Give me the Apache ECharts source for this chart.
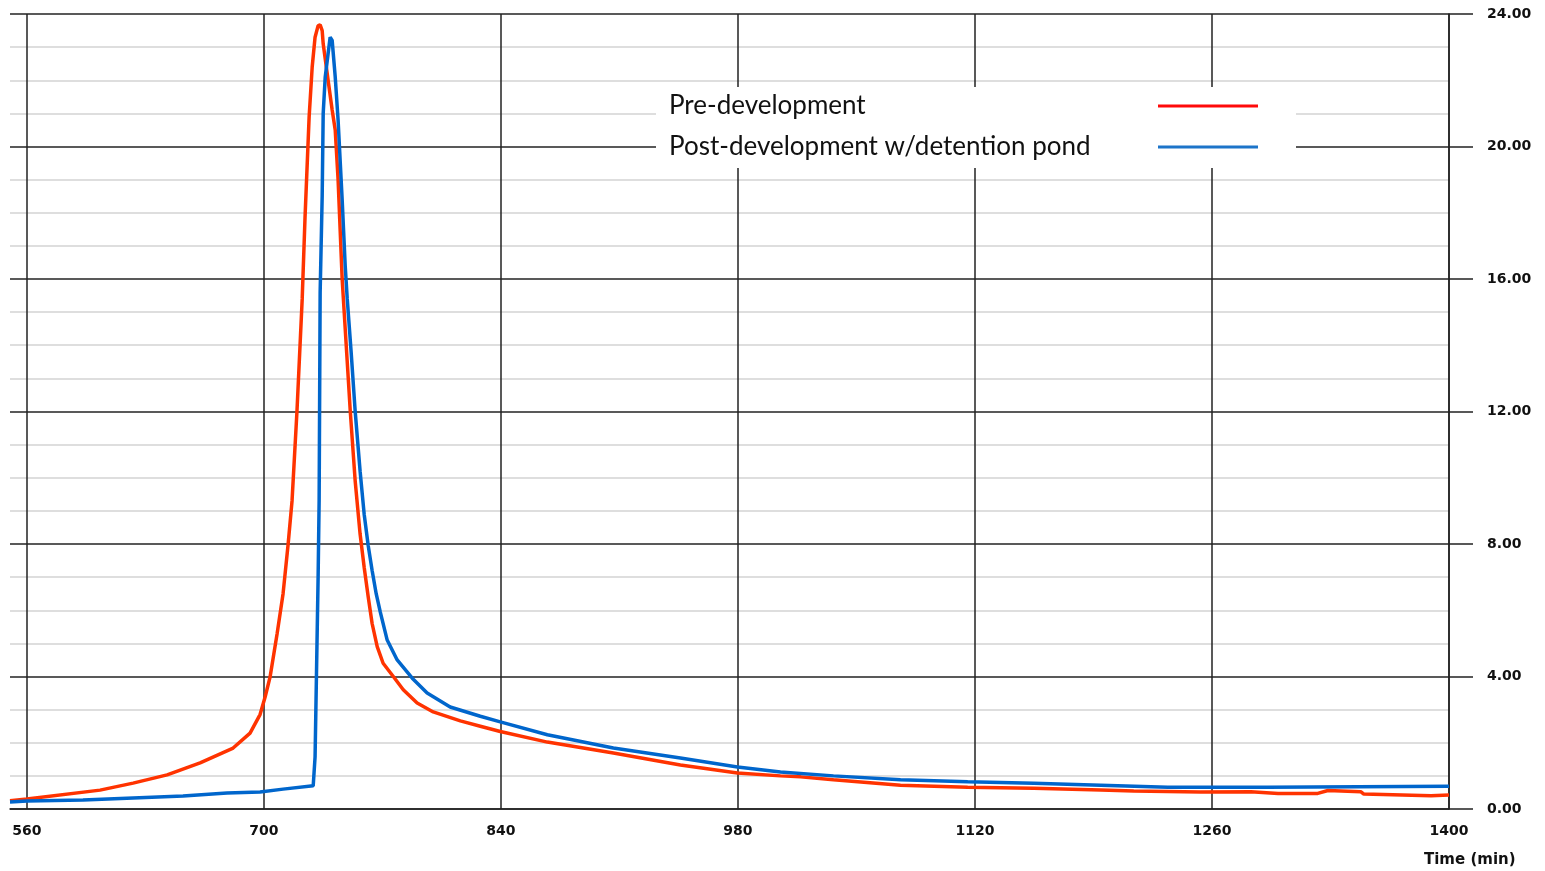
<!DOCTYPE html>
<html>
<head>
<meta charset="utf-8">
<script src="https://cdn.jsdelivr.net/npm/echarts@6/dist/echarts.min.js"></script>
<style>
html,body{margin:0;padding:0;background:#fff;}
#chart{width:1545px;height:871px;}
</style>
</head>
<body>
<div id="chart"></div>
<script>
// Time (min) and flow values
var preTime = [550, 560, 603.2, 622.7, 642.8, 662.3, 681.8, 691.8, 697.7, 700.7, 703.6, 707.8, 711.3, 714.3, 716.6, 719.5, 722.6, 724.3, 726.7, 728.5, 730.2, 732.0, 733.2, 734.4, 735.0, 737.9, 740.3, 742.1, 743.8, 746.2, 748.6, 751.0, 753.9, 756.8, 759.2, 761.6, 763.9, 766.9, 770.4, 776.4, 782.3, 790.5, 800.0, 816.0, 827.8, 839.6, 867.4, 906.4, 946.0, 979.7, 1005.1, 1017, 1036.4, 1076, 1115.7, 1154.7, 1194.3, 1213.8, 1253.4, 1283, 1299, 1322.5, 1328.5, 1348, 1349.7, 1389.4, 1400];
var preFlow = [0.25, 0.30, 0.57, 0.78, 1.03, 1.39, 1.84, 2.29, 2.85, 3.38, 3.98, 5.3, 6.5, 8.0, 9.3, 12.0, 15.4, 17.9, 20.9, 22.4, 23.3, 23.65, 23.67, 23.5, 23.1, 22.0, 21.1, 20.5, 19.0, 16.0, 14.0, 12.0, 9.9, 8.3, 7.3, 6.4, 5.6, 4.9, 4.4, 4.0, 3.6, 3.2, 2.93, 2.66, 2.50, 2.34, 2.02, 1.69, 1.33, 1.09, 1.0, 0.97, 0.88, 0.72, 0.66, 0.63, 0.57, 0.54, 0.51, 0.52, 0.47, 0.47, 0.56, 0.52, 0.45, 0.40, 0.42];

var postTime = [550, 560, 593.1, 622.7, 652.2, 678.2, 697.7, 711.3, 729.1, 730.2, 732.0, 732.6, 733.2, 734.4, 735.0, 736.2, 739.1, 740.3, 742.1, 743.8, 746.2, 748.0, 749.2, 751.5, 753.9, 756.8, 759.2, 761.6, 763.9, 766.3, 768.7, 772.8, 778.7, 787.6, 796.4, 810.0, 827.8, 839.6, 867.4, 906.4, 946.0, 979.7, 1005.1, 1036.4, 1076, 1115.7, 1154.7, 1194.3, 1233.9, 1293, 1400];
var postFlow = [0.21, 0.24, 0.27, 0.33, 0.39, 0.48, 0.51, 0.60, 0.70, 1.57, 7.0, 9.3, 15.6, 18.5, 21.0, 22.1, 23.3, 23.2, 22.1, 20.8, 18.4, 16.4, 15.4, 13.8, 12.0, 10.2, 8.9, 7.95, 7.2, 6.5, 5.95, 5.1, 4.5, 3.95, 3.5, 3.08, 2.80, 2.63, 2.24, 1.84, 1.54, 1.27, 1.12, 1.0, 0.88, 0.82, 0.78, 0.72, 0.66, 0.66, 0.69];

var xTickValues = [560, 700, 840, 980, 1120, 1260, 1400];
var seriesNames = ['Pre-development', 'Post-development w/detention pond'];
var axisTitle = 'Time (min)';

function zip(a, b) { return a.map(function (v, i) { return [v, b[i]]; }); }

var chart = echarts.init(document.getElementById('chart'), null, {renderer: 'canvas'});
chart.setOption({
  animation: false,
  backgroundColor: '#ffffff',
  grid: {left: 10, right: 96, top: 14, bottom: 62, containLabel: false},
  xAxis: {
    type: 'value',
    min: 550, max: 1400,
    axisLine: {show: true, onZero: false, lineStyle: {color: '#222', width: 1.5}},
    axisTick: {show: false, customValues: xTickValues},
    axisLabel: {
      customValues: xTickValues,
      margin: 15,
      color: '#111',
      fontFamily: 'DejaVu Sans',
      fontWeight: 'bold',
      fontSize: 14,
      formatter: function (v) { return String(v); }
    },
    splitLine: {show: true, lineStyle: {color: '#222', width: 1.5}}
  },
  yAxis: {
    type: 'value',
    position: 'right',
    min: 0, max: 24, interval: 4,
    axisLine: {show: true, lineStyle: {color: '#222', width: 1.5}},
    axisTick: {show: true, inside: false, length: 24, lineStyle: {color: '#222', width: 1.5}},
    axisLabel: {
      margin: 38,
      color: '#111',
      fontFamily: 'DejaVu Sans',
      fontWeight: 'bold',
      fontSize: 14,
      padding: [5, 0, 0, 0],
      formatter: function (v) { return v.toFixed(2); }
    },
    splitLine: {show: true, lineStyle: {color: '#222', width: 1.5}},
    minorTick: {show: false, splitNumber: 4},
    minorSplitLine: {show: true, lineStyle: {color: '#d4d4d4', width: 1.5}}
  },
  legend: {
    orient: 'vertical',
    left: 656, top: 87,
    align: 'right',
    backgroundColor: '#ffffff',
    padding: [6, 38, 8, 13],
    itemGap: 15,
    itemWidth: 100,
    itemHeight: 3,
    icon: 'rect',
    data: [
      {name: seriesNames[0], itemStyle: {color: '#ff0a0a'}},
      {name: seriesNames[1], itemStyle: {color: '#1c74c9'}}
    ],
    formatter: function (n) { return '{a|' + n + '}'; },
    textStyle: {
      rich: {
        a: {width: 484, align: 'left', fontFamily: 'Lato', fontSize: 26, lineHeight: 30, color: '#111'}
      }
    }
  },
  graphic: [{
    type: 'text',
    left: 1424, top: 853,
    style: {text: axisTitle, font: 'bold 15px "DejaVu Sans"', fill: '#111'}
  }],
  series: [
    {
      name: seriesNames[0],
      type: 'line',
      data: zip(preTime, preFlow),
      showSymbol: false, symbol: 'none',
      lineStyle: {color: '#ff3300', width: 3.5},
      itemStyle: {color: '#ff3300'},
      z: 3
    },
    {
      name: seriesNames[1],
      type: 'line',
      data: zip(postTime, postFlow),
      showSymbol: false, symbol: 'none',
      lineStyle: {color: '#0066cc', width: 3.5},
      itemStyle: {color: '#0066cc'},
      z: 4
    }
  ]
});
</script>
</body>
</html>
